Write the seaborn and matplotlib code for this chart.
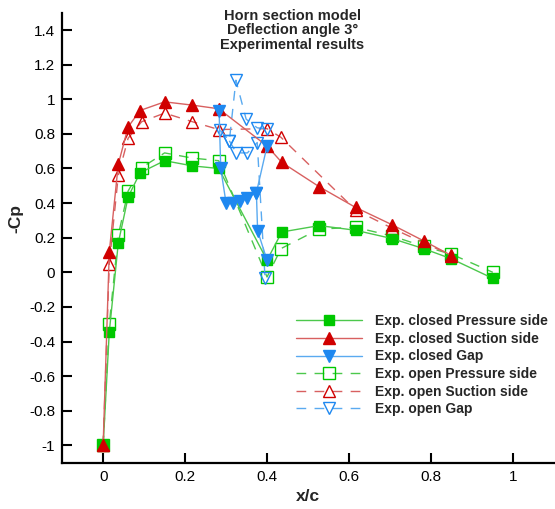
import numpy as np
import pandas as pd
import matplotlib
matplotlib.use("Agg")
import matplotlib.pyplot as plt
from matplotlib.lines import Line2D
import seaborn as sns

# ---------------- data ----------------
cp_x = [0.0, 0.015, 0.037, 0.061, 0.090, 0.150, 0.218, 0.282, 0.400, 0.436,
        0.527, 0.616, 0.705, 0.782, 0.850, 0.951]
cp_y = [-1.0, -0.345, 0.17, 0.435, 0.575, 0.645, 0.615, 0.600, 0.07, 0.233,
        0.27, 0.243, 0.195, 0.137, 0.078, -0.035]

cs_x = [0.0, 0.015, 0.037, 0.061, 0.090, 0.150, 0.218, 0.282, 0.400, 0.436,
        0.527, 0.616, 0.705, 0.782, 0.850]
cs_y = [-1.0, 0.117, 0.625, 0.84, 0.935, 0.985, 0.966, 0.945, 0.73, 0.635,
        0.495, 0.375, 0.275, 0.182, 0.097]

cg_x = [0.283, 0.287, 0.300, 0.318, 0.335, 0.350, 0.374, 0.400,
        0.374, 0.377, 0.400]
cg_y = [0.93, 0.60, 0.40, 0.40, 0.41, 0.43, 0.46, 0.73,
        0.46, 0.24, 0.07]
cg_seg = [0, 0, 0, 0, 0, 0, 0, 0, 1, 1, 1]

op_x = [0.0, 0.015, 0.037, 0.061, 0.094, 0.150, 0.218, 0.282, 0.400, 0.434,
        0.527, 0.616, 0.705, 0.782, 0.850, 0.951]
op_y = [-1.0, -0.30, 0.215, 0.47, 0.605, 0.69, 0.66, 0.645, -0.027, 0.137,
        0.25, 0.26, 0.21, 0.15, 0.105, 0.0]

os_x = [0.0, 0.015, 0.037, 0.061, 0.094, 0.150, 0.218, 0.282, 0.400, 0.434,
        0.616, 0.705, 0.782, 0.850]
os_y = [-1.0, 0.05, 0.56, 0.775, 0.87, 0.92, 0.87, 0.825, 0.83, 0.78,
        0.36, 0.255, 0.17, 0.10]

og_x = [0.286, 0.308, 0.324, 0.349, 0.376, 0.400,
        0.308, 0.325, 0.352, 0.376, 0.395]
og_y = [0.82, 0.76, 1.11, 0.885, 0.835, 0.83,
        0.76, 0.69, 0.69, 0.75, -0.03]
og_seg = [0, 0, 0, 0, 0, 0, 1, 1, 1, 1, 1]

labels = ["Exp. closed Pressure side", "Exp. closed Suction side", "Exp. closed Gap",
          "Exp. open Pressure side", "Exp. open Suction side", "Exp. open Gap"]
title_lines = ["Horn section model", "Deflection angle 3\u00b0", "Experimental results"]
xticks = [0, 0.2, 0.4, 0.6, 0.8, 1]
yticks = [-1, -0.8, -0.6, -0.4, -0.2, 0, 0.2, 0.4, 0.6, 0.8, 1, 1.2, 1.4]

# ---------------- style ----------------
sns.set_style("ticks")
plt.rcParams["font.family"] = ["Liberation Sans", "DejaVu Sans"]
plt.rcParams["axes.unicode_minus"] = False

GREEN = "#00C800"
GREEN_L = "#4CC84C"
RED = "#D00000"
RED_L = "#D86060"
BLUE = "#1E88F0"
BLUE_L = "#5AAAF0"

fig = plt.figure(figsize=(5.55, 5.09), dpi=100)
ax = fig.add_axes([0.112, 0.091, 0.886, 0.884])

dash = (7, 6)
series = [
    (cp_x, cp_y, None, "s", GREEN, GREEN_L, True, 7.0),
    (cs_x, cs_y, None, "^", RED, RED_L, True, 8.0),
    (cg_x, cg_y, cg_seg, "v", BLUE, BLUE_L, True, 8.0),
    (op_x, op_y, None, "s", GREEN, GREEN_L, False, 8.0),
    (os_x, os_y, None, "^", RED, RED_L, False, 9.0),
    (og_x, og_y, og_seg, "v", BLUE, BLUE_L, False, 9.0),
]

handles = []
for (xs, ys, seg, mk, mc, lc, closed, ms), lab in zip(series, labels):
    df = pd.DataFrame({"x": xs, "y": ys, "u": seg if seg is not None else [0] * len(xs)})
    kw = dict(marker=mk, markersize=ms, markeredgecolor=mc, markeredgewidth=1.0,
              markerfacecolor=mc if closed else "none", color=lc, linewidth=1.0)
    if not closed:
        kw["dashes"] = dash
    sns.lineplot(data=df, x="x", y="y", units="u", estimator=None, sort=False,
                 ax=ax, legend=False, zorder=3 if closed else 2, **kw)
    h = Line2D([], [], marker=mk, markersize=ms, markeredgecolor=mc, markeredgewidth=1.0,
               markerfacecolor=mc if closed else "none", color=lc, linewidth=1.0,
               linestyle="-" if closed else (0, dash))
    handles.append(h)

ax.set_xlim(-0.1, 1.1)
ax.set_ylim(-1.1, 1.5)
ax.set_xticks(xticks)
ax.set_xticklabels([f"{v:g}" for v in xticks])
ax.set_yticks(yticks)
ax.set_yticklabels([f"{v:g}" for v in yticks])
ax.tick_params(direction="in", length=7, width=1.5, labelsize=11, colors="black", pad=5)
for s in ["left", "bottom"]:
    ax.spines[s].set_linewidth(1.6)
    ax.spines[s].set_color("black")
sns.despine(ax=ax)

ax.set_xlabel("x/c", fontsize=12.5, fontweight="bold", labelpad=4)
ax.set_ylabel("-Cp", fontsize=12.5, fontweight="bold")
ax.yaxis.set_label_coords(-0.079, 0.542)

fig.text(0.527, 0.983, "\n".join(title_lines), ha="center", va="top",
         fontsize=10.5, fontweight="bold", linespacing=1.04)

leg = ax.legend(handles, labels, loc="upper left", bbox_to_anchor=(0.476, 0.33),
                frameon=False, handlelength=4.7, handletextpad=1.0,
                labelspacing=0.26, prop={"size": 10, "weight": "bold"}, borderaxespad=0,
                borderpad=0)

fig.savefig("out.png", dpi=100)
